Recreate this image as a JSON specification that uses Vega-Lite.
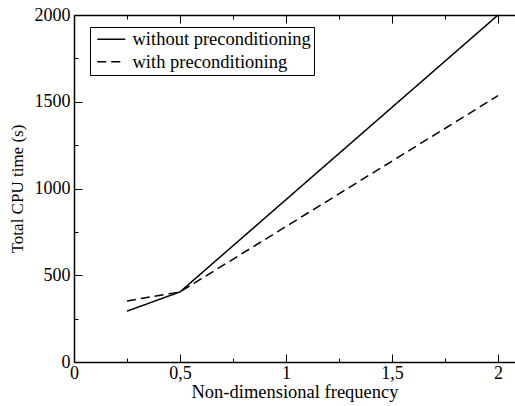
{
  "$schema": "https://vega.github.io/schema/vega-lite/v6.json",
  "width": 441,
  "height": 347,
  "autosize": {"type": "none"},
  "padding": {"left": 74, "top": 15, "right": 0, "bottom": 44},
  "background": "white",
  "config": {
    "view": {"stroke": null},
    "font": "Liberation Serif",
    "axis": {
      "domainColor": "black",
      "domainWidth": 1.5,
      "tickColor": "black",
      "tickWidth": 1,
      "labelColor": "black",
      "labelFont": "Liberation Serif",
      "labelFontSize": 18,
      "titleFont": "Liberation Serif",
      "titleFontSize": 18.5,
      "titleFontWeight": "normal",
      "titleColor": "black",
      "grid": false
    },
    "legend": {"labelFont": "Liberation Serif"}
  },
  "data": {
    "values": [
      {"series": "without preconditioning", "f": 0.25, "t": 293},
      {"series": "without preconditioning", "f": 0.5, "t": 404},
      {"series": "without preconditioning", "f": 2.0, "t": 2000},
      {"series": "with preconditioning", "f": 0.25, "t": 352},
      {"series": "with preconditioning", "f": 0.5, "t": 404},
      {"series": "with preconditioning", "f": 2.0, "t": 1535}
    ]
  },
  "resolve": {"axis": {"x": "independent"}},
  "layer": [
    {
      "mark": {"type": "line", "color": "black", "strokeWidth": 1.5},
      "encoding": {
        "x": {
          "field": "f",
          "type": "quantitative",
          "scale": {"domain": [0, 2.08], "nice": false, "zero": false},
          "axis": {
            "values": [0, 0.25, 0.5, 0.75, 1, 1.25, 1.5, 1.75, 2],
            "labelExpr": "datum.value % 0.5 == 0 ? replace(format(datum.value, '~g'), '.', ',') : ''",
            "tickSize": {"condition": {"test": "datum.value % 0.5 == 0", "value": -8}, "value": -4},
            "labelPadding": 10,
            "labelFlush": false,
            "title": "Non-dimensional frequency",
            "titlePadding": 0
          }
        },
        "y": {
          "field": "t",
          "type": "quantitative",
          "scale": {"domain": [0, 2000], "nice": false},
          "axis": {
            "values": [0, 250, 500, 750, 1000, 1250, 1500, 1750, 2000],
            "labelExpr": "datum.value % 500 == 0 ? format(datum.value, 'd') : ''",
            "tickSize": {"condition": {"test": "datum.value % 500 == 0", "value": -8}, "value": -4},
            "labelPadding": 12,
            "labelFlush": false,
            "title": "Total CPU time (s)",
            "titleFontSize": 17,
            "titlePadding": 8
          }
        },
        "strokeDash": {
          "field": "series",
          "type": "nominal",
          "scale": {
            "domain": ["without preconditioning", "with preconditioning"],
            "range": [[1, 0], [9, 5]]
          },
          "legend": {
            "orient": "none",
            "legendX": 16,
            "legendY": 12,
            "title": null,
            "strokeColor": "black",
            "fillColor": "white",
            "padding": 3,
            "labelFontSize": 18.5,
            "labelLimit": 300,
            "labelColor": "black",
            "symbolType": "M-2,0H2",
            "symbolSize": 196,
            "symbolStrokeWidth": 1.5,
            "symbolStrokeColor": "black",
            "symbolOffset": 9,
            "rowPadding": 3.5,
            "labelOffset": 12
          }
        }
      }
    },
    {
      "mark": {"type": "line", "opacity": 0},
      "encoding": {
        "x": {
          "field": "f",
          "type": "quantitative",
          "scale": {"domain": [0, 2.08], "nice": false, "zero": false},
          "axis": {
            "orient": "top",
            "values": [0, 0.25, 0.5, 0.75, 1, 1.25, 1.5, 1.75, 2],
            "labels": false,
            "tickSize": {"condition": {"test": "datum.value % 0.5 == 0", "value": -8}, "value": -4},
            "title": null
          }
        },
        "y": {"field": "t", "type": "quantitative"}
      }
    }
  ]
}
